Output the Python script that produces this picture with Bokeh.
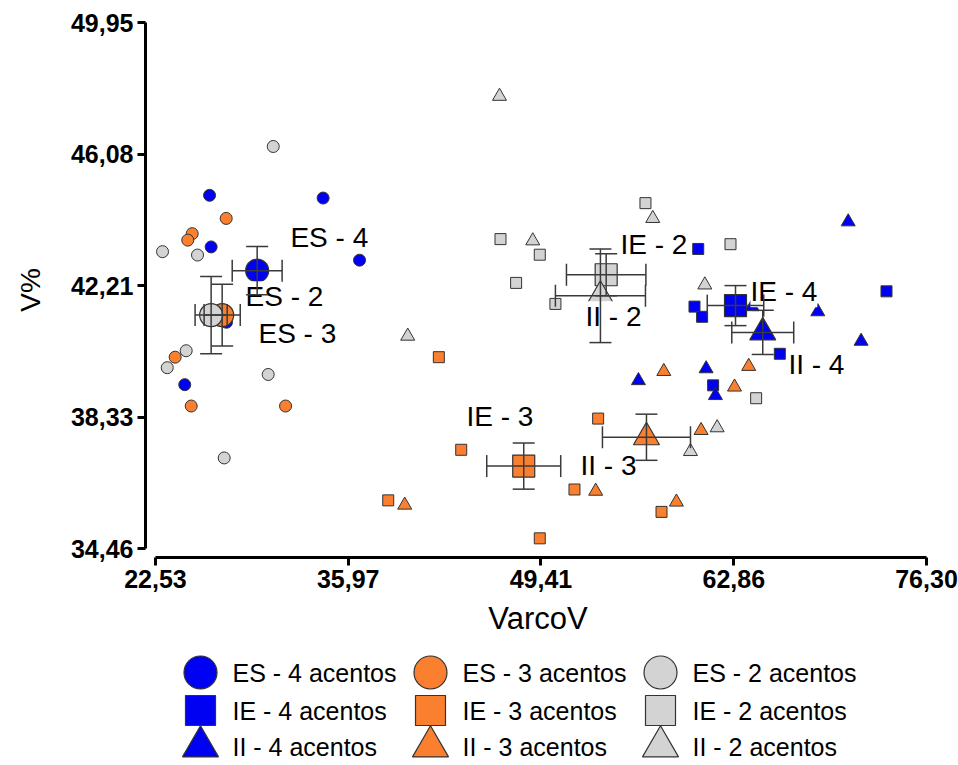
from bokeh.plotting import figure
from bokeh.models import Range1d, FixedTicker, ColumnDataSource, Whisker, TeeHead
from bokeh.layouts import column
from bokeh.core.properties import value
from bokeh.embed import file_html
from bokeh.resources import INLINE

# ---------------- data ----------------
x_ticks = [22.53, 35.97, 49.41, 62.86, 76.30]
y_ticks = [34.46, 38.33, 42.21, 46.08, 49.95]

# ES (circles)
es4_x = [26.30, 34.22, 26.41, 36.76, 27.48, 24.57]
es4_y = [44.87, 44.79, 43.35, 42.96, 41.13, 39.29]
es3_x = [27.46, 25.09, 24.78, 23.90, 25.02, 31.60]
es3_y = [44.19, 43.74, 43.55, 40.10, 38.66, 38.66]
es2_x = [30.74, 23.02, 25.46, 24.67, 23.35, 30.39, 27.32]
es2_y = [46.31, 43.21, 43.11, 40.29, 39.79, 39.59, 37.13]

# IE (squares)
ie4_x = [60.38, 60.12, 60.65, 73.51, 66.07, 61.42]
ie4_y = [43.29, 41.59, 41.29, 42.04, 40.20, 39.27]
ie3_x = [42.29, 53.40, 43.85, 51.75, 38.76, 57.82, 49.33]
ie3_y = [40.10, 38.29, 37.37, 36.20, 35.88, 35.54, 34.76]
ie2_x = [56.70, 62.63, 46.59, 49.33, 47.68, 50.42, 64.42]
ie2_y = [44.64, 43.43, 43.58, 43.12, 42.29, 41.67, 38.89]

# II (triangles)
ii4_x = [70.84, 64.14, 68.72, 71.74, 60.93, 56.21, 61.58]
ii4_y = [44.09, 41.59, 41.44, 40.57, 39.76, 39.41, 38.97]
ii3_x = [57.98, 63.90, 62.91, 60.58, 53.23, 58.86, 39.91]
ii3_y = [39.68, 39.83, 39.22, 37.94, 36.15, 35.83, 35.74]
ii2_x = [46.52, 57.21, 48.84, 60.84, 40.12, 61.70, 59.84]
ii2_y = [47.79, 44.19, 43.53, 42.23, 40.72, 38.02, 37.32]

# group means with error bars
mean_names = ["ES - 4", "ES - 3", "ES - 2", "IE - 4", "IE - 3", "IE - 2", "II - 4", "II - 3", "II - 2"]
mean_x = [29.62, 27.18, 26.41, 62.98, 48.21, 53.96, 64.88, 56.77, 53.56]
mean_y = [42.65, 41.34, 41.34, 41.62, 36.89, 42.53, 40.83, 37.74, 41.91]
mean_xerr = [1.74, 1.26, 1.12, 1.97, 2.58, 2.77, 2.16, 3.07, 3.14]
mean_yerr = [0.71, 0.91, 1.14, 0.59, 0.68, 0.62, 0.65, 0.68, 1.38]

# label anchors (left edge, middle)
label_x = [31.94, 29.71, 28.81, 64.02, 44.22, 54.96, 66.67, 52.17, 52.52]
label_y = [43.62, 40.79, 41.88, 42.03, 38.35, 43.41, 39.88, 36.91, 41.29]

legend_labels = ["ES - 4 acentos", "ES - 3 acentos", "ES - 2 acentos",
                 "IE - 4 acentos", "IE - 3 acentos", "IE - 2 acentos",
                 "II - 4 acentos", "II - 3 acentos", "II - 2 acentos"]

# ---------------- styles ----------------
BLUE = "#0000F2"
ORANGE = "#FA7F2E"
GRAY = "#D3D3D3"
EDGE = "#333333"
FONT = "Liberation Sans"
colors = [BLUE, ORANGE, GRAY]
markers = ["circle", "square", "triangle"]
small_size = {"circle": 12, "square": 11, "triangle": 14}
big_size = {"circle": 23, "square": 22, "triangle": 26}

LEFT, RIGHT = 145, 28
PX_X = 14.34
PX_Y = 34.0
p = figure(width=958, height=650,
           x_range=Range1d(22.53 - 10 / PX_X, 76.30 + 4 / PX_X),
           y_range=Range1d(34.46 - 9 / PX_Y, 49.95 + 0.5 / PX_Y),
           output_backend="svg", toolbar_location=None,
           min_border_left=LEFT, min_border_right=RIGHT,
           min_border_top=22, min_border_bottom=93)
p.grid.visible = False
p.outline_line_color = None
p.background_fill_color = "white"
p.border_fill_color = "white"

for ax, ticks, bnds in ((p.xaxis[0], x_ticks, (22.53, 76.30)), (p.yaxis[0], y_ticks, (34.46, 49.95))):
    ax.ticker = FixedTicker(ticks=ticks)
    ax.major_label_overrides = {t: f"{t:.2f}".replace(".", ",") for t in ticks}
    ax.bounds = bnds
    ax.axis_line_width = 3
    ax.axis_line_color = "black"
    ax.major_tick_line_width = 3
    ax.major_tick_line_color = "black"
    ax.major_tick_out = 8
    ax.major_tick_in = 0
    ax.minor_tick_line_color = None
    ax.major_label_text_font = FONT
    ax.major_label_text_font_style = "bold"
    ax.major_label_text_font_size = "25px"
    ax.major_label_text_color = "black"
    ax.axis_label_text_font = FONT
    ax.axis_label_text_font_style = "normal"
    ax.axis_label_text_color = "black"

p.xaxis.axis_label = "VarcoV"
p.xaxis.axis_label_text_font_size = "31px"
p.xaxis.major_label_standoff = 4
p.xaxis.axis_label_standoff = 10
p.yaxis.axis_label = "V%"
p.yaxis.axis_label_text_font_size = "28px"
p.yaxis.major_label_standoff = 4
p.yaxis.axis_label_standoff = 22

groups = [
    ("circle", BLUE, es4_x, es4_y), ("circle", ORANGE, es3_x, es3_y), ("circle", GRAY, es2_x, es2_y),
    ("square", BLUE, ie4_x, ie4_y), ("square", ORANGE, ie3_x, ie3_y), ("square", GRAY, ie2_x, ie2_y),
    ("triangle", BLUE, ii4_x, ii4_y), ("triangle", ORANGE, ii3_x, ii3_y), ("triangle", GRAY, ii2_x, ii2_y),
]
for mk, col, xs, ys in groups:
    p.scatter(xs, ys, marker=mk, size=small_size[mk], fill_color=col,
              line_color=EDGE, line_width=1)

# error bars
src = ColumnDataSource(dict(
    x=mean_x, y=mean_y,
    xl=[a - b for a, b in zip(mean_x, mean_xerr)], xu=[a + b for a, b in zip(mean_x, mean_xerr)],
    yl=[a - b for a, b in zip(mean_y, mean_yerr)], yu=[a + b for a, b in zip(mean_y, mean_yerr)],
))
ERR = "#3a3a3a"
for dim, base, lo, hi in (("height", "x", "yl", "yu"), ("width", "y", "xl", "xu")):
    w = Whisker(source=src, base=base, lower=lo, upper=hi, dimension=dim,
                line_color=ERR, line_width=1.5, level="glyph",
                upper_head=TeeHead(size=22, line_color=ERR, line_width=1.5),
                lower_head=TeeHead(size=22, line_color=ERR, line_width=1.5))
    p.add_layout(w)

# means (draw order: blue, orange, gray)
mean_markers = ["circle"] * 3 + ["square"] * 3 + ["triangle"] * 3
mean_colors = colors * 3
for i in range(9):
    p.scatter([mean_x[i]], [mean_y[i]], marker=mean_markers[i], size=big_size[mean_markers[i]],
              fill_color=mean_colors[i], line_color=EDGE, line_width=1.2)

p.text(x=label_x, y=label_y, text=mean_names, text_font=value(FONT),
       text_font_size="28px", text_align="left", text_baseline="middle",
       text_color="black", background_fill_color="white")

# ---------------- legend panel ----------------
# frame of this panel is aligned with the main frame; its x range is in page pixels
leg = figure(width=958, height=115, x_range=Range1d(LEFT, 958 - RIGHT), y_range=Range1d(115, 0),
             output_backend="svg", toolbar_location=None, min_border=0,
             min_border_left=LEFT, min_border_right=RIGHT,
             x_axis_location=None, y_axis_location=None)
leg.grid.visible = False
leg.outline_line_color = None
col_x = [200, 430, 660]
row_y = [22, 60, 96]
leg_size = {"circle": 33, "square": 30, "triangle": 36}
for i, lab in enumerate(legend_labels):
    r, c = divmod(i, 3)
    mk = markers[r]
    leg.scatter([col_x[c]], [row_y[r]], marker=mk, size=leg_size[mk],
                fill_color=colors[c], line_color=EDGE, line_width=1.2)
    leg.text([col_x[c] + 32], [row_y[r]], text=[lab], text_font=value(FONT),
             text_font_size="25px", text_align="left", text_baseline="middle",
             text_color="black")

layout = column(p, leg, spacing=0)
open("out.html", "w").write(file_html(layout, INLINE))
